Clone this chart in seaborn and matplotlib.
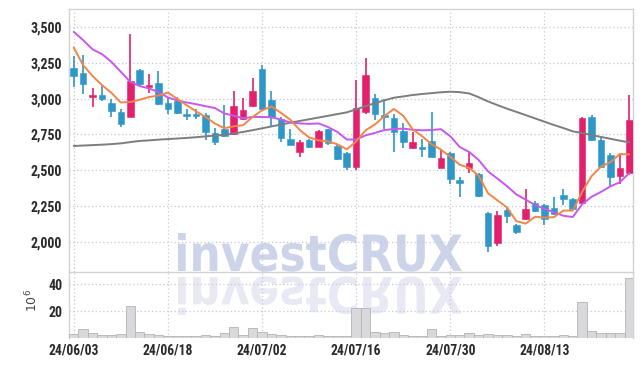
import numpy as np
import pandas as pd
import matplotlib
matplotlib.use("Agg")
import matplotlib.pyplot as plt
import seaborn as sns
from matplotlib.textpath import TextPath
from matplotlib.patches import PathPatch
from matplotlib.font_manager import FontProperties, fontManager
from matplotlib.transforms import Affine2D, IdentityTransform

# ---------------- data ----------------
opens = [3215, 3180, 3015, 3025, 2970, 2905, 2875, 3200, 3080, 3110,
         2970, 2980, 2885, 2895, 2885, 2760, 2790, 2755, 2860, 2945,
         3205, 2990, 2860, 2720, 2630, 2715, 2665, 2785, 2670, 2620,
         2525, 2910, 3005, 2885, 2865, 2775, 2655, 2660, 2705, 2520,
         2620, 2425, 2520, 2475, 2205, 1995, 2225, 2120, 2160, 2270,
         2260, 2235, 2325, 2300, 2270, 2870, 2710, 2610, 2460, 2480]
highs = [3295, 3305, 3075, 3095, 3000, 2925, 3450, 3205, 3170, 3195,
         3010, 3010, 2930, 2930, 2900, 2795, 2955, 3055, 3005, 3140,
         3235, 3050, 2875, 2790, 2710, 2720, 2780, 2790, 2675, 2625,
         3130, 3280, 3030, 3000, 2890, 2830, 2770, 2720, 2905, 2640,
         2625, 2455, 2630, 2480, 2210, 2215, 2245, 2125, 2370, 2290,
         2265, 2315, 2370, 2305, 2875, 2885, 2730, 2620, 2605, 3025]
lows = [3080, 3030, 2940, 2980, 2875, 2800, 2870, 3085, 3040, 2955,
        2890, 2890, 2850, 2855, 2710, 2675, 2730, 2745, 2850, 2940,
        2920, 2810, 2700, 2675, 2595, 2655, 2660, 2680, 2570, 2500,
        2505, 2890, 2850, 2785, 2630, 2655, 2650, 2595, 2590, 2515,
        2405, 2315, 2485, 2315, 1930, 1975, 2130, 2060, 2155, 2210,
        2120, 2190, 2260, 2225, 2265, 2705, 2520, 2390, 2405, 2470]
closes = [3160, 3105, 3020, 3000, 2915, 2825, 3120, 3100, 3095, 2965,
          2930, 2900, 2880, 2880, 2770, 2700, 2740, 2945, 2920, 3055,
          2930, 2875, 2725, 2680, 2700, 2665, 2775, 2690, 2580, 2525,
          2935, 3165, 2895, 2875, 2770, 2695, 2695, 2655, 2595, 2585,
          2440, 2420, 2550, 2320, 1975, 2190, 2180, 2070, 2230, 2215,
          2160, 2195, 2300, 2230, 2865, 2710, 2525, 2455, 2515, 2850]
ma5 = [3356, 3233, 3157, 3094, 3040, 2973, 2976, 2992, 3011, 3021,
       3042, 2998, 2954, 2911, 2872, 2826, 2794, 2807, 2815, 2872,
       2918, 2945, 2901, 2853, 2782, 2729, 2709, 2702, 2682, 2647,
       2701, 2779, 2820, 2879, 2928, 2880, 2786, 2738, 2682, 2645,
       2594, 2539, 2518, 2463, 2341, 2291, 2243, 2147, 2129, 2177,
       2171, 2174, 2220, 2220, 2350, 2460, 2526, 2557, 2614, 2611]
ma10 = [3465, 3407, 3343, 3310, 3256, 3187, 3117, 3087, 3071, 3045,
        3008, 2987, 2973, 2961, 2947, 2934, 2896, 2881, 2863, 2872,
        2872, 2870, 2854, 2834, 2827, 2824, 2827, 2802, 2768, 2715,
        2715, 2744, 2761, 2781, 2788, 2791, 2783, 2779, 2781, 2787,
        2737, 2663, 2628, 2573, 2493, 2443, 2391, 2333, 2296, 2259,
        2231, 2209, 2184, 2175, 2264, 2316, 2350, 2389, 2417, 2481]
ma_long = [2670, 2673, 2676, 2679, 2683, 2688, 2697, 2705, 2709, 2714,
           2718, 2722, 2726, 2731, 2737, 2742, 2747, 2757, 2768, 2780,
           2793, 2806, 2819, 2832, 2844, 2856, 2868, 2880, 2892, 2904,
           2925, 2948, 2968, 2988, 3006, 3015, 3025, 3032, 3038, 3044,
           3048, 3045, 3036, 3010, 2980, 2955, 2930, 2908, 2885, 2862,
           2839, 2816, 2795, 2772, 2760, 2746, 2733, 2720, 2707, 2695]
volume = [2.8, 6.3, 3.3, 2.0, 2.0, 2.5, 23.5, 4.0, 2.8, 2.0,
          1.3, 1.3, 1.3, 1.3, 1.9, 1.6, 3.3, 8.0, 2.0, 7.0,
          4.0, 2.5, 1.8, 1.3, 1.0, 1.0, 2.0, 1.0, 1.0, 1.0,
          22.0, 22.0, 4.5, 3.3, 4.0, 2.0, 1.5, 1.5, 6.3, 1.3,
          2.0, 1.8, 3.3, 2.0, 2.5, 2.0, 1.8, 1.3, 2.5, 1.3,
          1.3, 1.3, 2.0, 1.3, 27.0, 5.3, 3.8, 3.8, 3.8, 44.5]
date_ticks = [0, 10, 20, 30, 40, 50]
date_labels = ["24/06/03", "24/06/18", "24/07/02", "24/07/16", "24/07/30", "24/08/13"]
price_ticks = [2000, 2250, 2500, 2750, 3000, 3250, 3500]
volume_ticks = [20, 40]

df = pd.DataFrame({"idx": np.arange(len(closes)), "open": opens, "high": highs,
                   "low": lows, "close": closes, "ma5": ma5, "ma10": ma10,
                   "ma_long": ma_long, "volume": volume})

# ---------------- style ----------------
sns.set_theme(style="white")
names = {f.name for f in fontManager.ttflist}
tick_font = "DejaVu Sans"
for cand in ["Liberation Sans Narrow", "Roboto Condensed", "Roboto"]:
    if cand in names:
        tick_font = cand
        break
plt.rcParams["font.family"] = [tick_font, "DejaVu Sans"]

UP = "#e3206b"
DOWN = "#2e97c8"
GRID = "#c4c8dc"
SPINE = "#d2d2d6"

W, H = 643, 366
fig = plt.figure(figsize=(W / 100, H / 100), dpi=100, facecolor="white")
left, right = 69.3 / W, 633 / W
ax = fig.add_axes([left, (H - 272.3) / H, right - left, (272.3 - 9.3) / H])
axv = fig.add_axes([left, (H - 337.7) / H, right - left, (337.7 - 272.3) / H], sharex=ax)
for a in (ax, axv):
    a.set_facecolor("none")

# ---------------- watermark ----------------
fp = FontProperties(family="DejaVu Sans", weight="bold")
tp = TextPath((0, 0), "investCRUX", size=100, prop=fp)
bb = tp.get_extents()
x0, x1 = 178, 462
sx = (x1 - x0) / bb.width
sy = 38 / bb.y1
t_main = Affine2D().translate(-bb.x0, 0).scale(sx, sy).translate(x0, H - 271)
t_refl = Affine2D().translate(-bb.x0, 0).scale(sx, -sy).translate(x0, H - 277)
fig.add_artist(PathPatch(t_refl.transform_path(tp), facecolor="#e8e9f2", edgecolor="none",
                         transform=IdentityTransform(), zorder=-6))
fig.add_artist(PathPatch(t_main.transform_path(tp), facecolor="#cdd3e8", edgecolor="none",
                         transform=IdentityTransform(), zorder=-5))

# ---------------- candles ----------------
body_w = 0.7
for _, r in df.iterrows():
    up = r["close"] >= r["open"]
    col = UP if up else DOWN
    ax.vlines(r["idx"], r["low"], r["high"], color=col, lw=1.2, zorder=3)
    lo = min(r["open"], r["close"])
    h = abs(r["close"] - r["open"])
    if h < 14:
        lo = (r["open"] + r["close"]) / 2 - 7
        h = 14
    ax.bar(r["idx"], h, bottom=lo, width=body_w, color=col, edgecolor=col, lw=0.4, zorder=4)

sns.lineplot(data=df, x="idx", y="ma_long", ax=ax, color="#7d7d7d", lw=1.4, zorder=5)
sns.lineplot(data=df, x="idx", y="ma10", ax=ax, color="#c857ee", lw=1.4, zorder=6)
sns.lineplot(data=df, x="idx", y="ma5", ax=ax, color="#f08648", lw=1.4, zorder=7)

# ---------------- volume ----------------
axv.bar(df["idx"], df["volume"], width=1.0, color="#d9d9dc", edgecolor="#b4b4b8", lw=0.6, zorder=3)

# ---------------- axes ----------------
ax.set_xlim(-0.47, 59.4)
ax.set_ylim(1790, 3622)
axv.set_ylim(0, 49)

ax.set_yticks(price_ticks)
ax.set_yticklabels([f"{v:,}" for v in price_ticks])
axv.set_yticks(volume_ticks)
axv.set_yticklabels([str(v) for v in volume_ticks])
axv.set_xticks(date_ticks)
axv.set_xticklabels(date_labels)
ax.tick_params(axis="x", labelbottom=False)

for a in (ax, axv):
    a.set_xlabel("")
    a.set_ylabel("")
    a.grid(True, color=GRID, lw=0.9, linestyle=(0, (1, 2)), zorder=0)
    a.set_axisbelow(True)
    a.tick_params(length=0, colors="#2a2a2a", labelsize=10, pad=5)
    for lab in a.get_yticklabels() + a.get_xticklabels():
        lab.set_fontweight("bold")
    for s in a.spines.values():
        s.set_color(SPINE)
        s.set_linewidth(1.0)
axv.spines["top"].set_visible(False)
axv.spines["bottom"].set_visible(False)
axv.tick_params(axis="x", labelsize=9.8, pad=4)

fig.text(32 / W, (H - 300) / H, r"$10^6$", rotation=90, ha="center", va="center",
         fontsize=9, color="#444444", family="DejaVu Sans")

fig.savefig("out.png", dpi=100, facecolor="white")
